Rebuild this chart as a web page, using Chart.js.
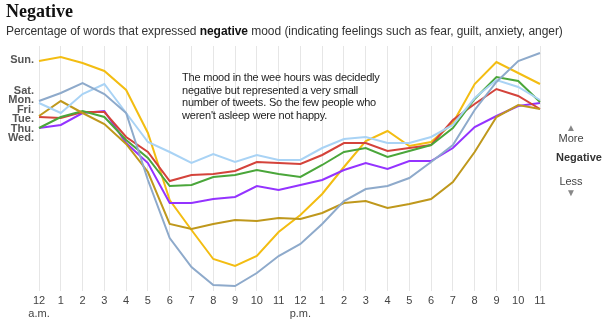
<!DOCTYPE html>
<html>
<head>
<meta charset="utf-8">
<title>Negative</title>
<script src="https://cdn.jsdelivr.net/npm/chart.js@4"></script>
<style>
  body {
    margin: 0;
    width: 610px;
    height: 326px;
    position: relative;
    overflow: hidden;
    background: #ffffff;
    font-family: 'Liberation Sans', Arial, sans-serif;
  }
  #chart { position: absolute; left: 0; top: 0; }
  .title {
    position: absolute; left: 6px; top: 1px;
    font: bold 18px 'Liberation Serif', 'Times New Roman', serif;
    color: #111;
  }
  .subtitle {
    position: absolute; left: 6px; top: 24px;
    font-size: 12px; color: #333; white-space: nowrap;
    letter-spacing: -0.05px;
  }
  .subtitle b { color: #111; }
  .note {
    position: absolute; left: 182px; top: 71px;
    font-size: 11px; line-height: 12.5px; color: #222;
    letter-spacing: -0.2px;
  }
  .key {
    position: absolute; font-size: 11px; color: #444;
    text-align: center; width: 60px;
  }
  .key.bold { font-weight: bold; color: #333; }
  .key.arrow { color: #888; font-size: 10px; }
</style>
</head>
<body>
<canvas id="chart" width="610" height="326"></canvas>
<div class="title">Negative</div>
<div class="subtitle">Percentage of words that expressed <b>negative</b> mood (indicating feelings such as fear, guilt, anxiety, anger)</div>
<div class="note">The mood in the wee hours was decidedly<br>negative but represented a very small<br>number of tweets. So the few people who<br>weren't asleep were not happy.</div>
<div class="key arrow" style="left:541px; top:122px;">&#9650;</div>
<div class="key" style="left:541px; top:132px;">More</div>
<div class="key bold" style="left:549px; top:151px;">Negative</div>
<div class="key" style="left:541px; top:175px;">Less</div>
<div class="key arrow" style="left:541px; top:187px;">&#9660;</div>
<script>
// hours of the day, 12 a.m. to 11 p.m.
const hourLabels = [['12', 'a.m.'], '1', '2', '3', '4', '5', '6', '7', '8', '9', '10', '11',
  ['12', 'p.m.'], '1', '2', '3', '4', '5', '6', '7', '8', '9', '10', '11'];

// negative mood index, one value per hour (higher = more negative)
const sunday    = [239, 243, 237, 229, 210, 167, 100, 70, 41, 34, 44, 68, 85, 106, 133, 159, 169, 154, 158, 177, 216, 238, 227, 216];
const saturday  = [199, 207, 217, 206, 187, 120, 62, 33, 15, 14, 27, 44, 56, 76, 99, 111, 114, 122, 138, 155, 190, 218, 239, 247];
const monday    = [197, 187, 206, 216, 187, 158, 148, 137, 146, 138, 145, 140, 140, 152, 161, 163, 157, 157, 163, 175, 202, 220, 213, 200];
const friday    = [184, 199, 187, 176, 156, 128, 76, 71, 76, 80, 79, 82, 81, 87, 97, 99, 92, 96, 101, 118, 148, 183, 195, 191];
const tuesday   = [183, 182, 188, 188, 163, 148, 119, 125, 126, 129, 138, 137, 136, 145, 157, 157, 149, 152, 155, 180, 196, 211, 204, 191];
const thursday  = [172, 183, 189, 183, 160, 142, 114, 115, 123, 125, 130, 126, 123, 135, 148, 152, 143, 149, 155, 172, 201, 223, 219, 198];
const wednesday = [172, 175, 187, 189, 157, 137, 97, 97, 101, 103, 114, 110, 115, 120, 130, 137, 131, 139, 139, 152, 173, 184, 194, 197];

const dayNames  = ['Sat.', 'Mon.', 'Fri.', 'Thu.', 'Tue.', 'Wed.', 'Sun.'];
const daySeries = [saturday, monday, friday, thursday, tuesday, wednesday, sunday];
const dayColors = ['#8eaacb', '#a9d3f5', '#bf981c', '#4aa63a', '#d4433b', '#9433ff', '#f3bd12'];

// day names at the left, nudged apart so they don't collide
const dayLabelPlugin = {
  id: 'dayLabels',
  afterDraw(chart) {
    const ctx = chart.ctx;
    const yScale = chart.scales.y;
    const gap = 9.4;
    const items = dayNames.map((name, i) => ({
      name,
      y: yScale.getPixelForValue(daySeries[i][0])
    }));
    items.sort((a, b) => a.y - b.y);
    for (let iter = 0; iter < 200; iter++) {
      for (let i = 1; i < items.length; i++) {
        const d = items[i].y - items[i - 1].y;
        if (d < gap) {
          const push = (gap - d) / 2;
          items[i].y += push;
          items[i - 1].y -= push;
        }
      }
    }
    ctx.save();
    ctx.font = 'bold 11px "Liberation Sans", Arial, sans-serif';
    ctx.fillStyle = '#555';
    ctx.textAlign = 'right';
    ctx.textBaseline = 'middle';
    items.forEach(it => ctx.fillText(it.name, chart.chartArea.left - 5, it.y - 1));
    ctx.restore();
  }
};

const ctx = document.getElementById('chart').getContext('2d');
const chart = new Chart(ctx, {
  type: 'line',
  data: {
    labels: hourLabels,
    datasets: dayNames.map((name, i) => ({
      label: name,
      data: daySeries[i],
      borderColor: dayColors[i],
      backgroundColor: dayColors[i],
      borderWidth: 2,
      pointRadius: 0,
      tension: 0,
      fill: false
    }))
  },
  options: {
    responsive: false,
    animation: false,
    layout: { padding: { left: 39, right: 70, top: 46, bottom: 0 } },
    plugins: {
      legend: { display: false },
      tooltip: { enabled: false }
    },
    scales: {
      x: {
        offset: false,
        border: { display: false },
        grid: { color: '#e6e6e6', lineWidth: 1, drawTicks: false },
        ticks: {
          padding: 3,
          maxRotation: 0,
          autoSkip: false,
          color: '#444',
          font: { family: '"Liberation Sans", Arial, sans-serif', size: 11 }
        },
        afterFit(scale) { scale.height = 35; }
      },
      y: {
        display: false,
        min: 9,
        max: 254
      }
    }
  },
  plugins: [dayLabelPlugin]
});
</script>
</body>
</html>
